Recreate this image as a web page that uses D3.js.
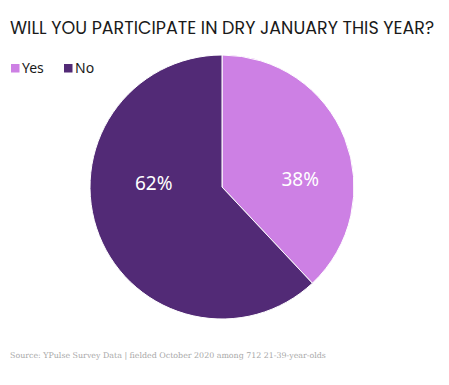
<!DOCTYPE html>
<html>
<head>
<meta charset="utf-8">
<script src="https://cdn.jsdelivr.net/npm/d3@7"></script>
<style>
  body { margin: 0; background: #fff; }
  svg { display: block; }
</style>
</head>
<body>
<div id="chart"></div>
<script>
// data
const categories = ["Yes", "No"];
const values = [38, 62];
const colors = ["#cd80e4", "#522a76"];

const width = 449, height = 385;
const cx = 222, cy = 187, radius = 132;

const svg = d3.select("#chart")
  .append("svg")
  .attr("width", width)
  .attr("height", height);

// title
svg.append("text")
  .attr("x", 10)
  .attr("y", 34)
  .attr("font-family", "Poppins, 'Noto Sans', sans-serif")
  .attr("font-size", 17.5)
  .attr("fill", "#1a1a1a")
  .text("WILL YOU PARTICIPATE IN DRY JANUARY THIS YEAR?");

// legend
const legend = svg.append("g").attr("transform", "translate(11,64)");
const legendX = [0, 53];
categories.forEach(function(c, i) {
  let g = legend.append("g").attr("transform", "translate(" + legendX[i] + ",0)");
  g.append("rect")
    .attr("width", 8.5).attr("height", 8.5)
    .attr("fill", colors[i]);
  g.append("text")
    .attr("x", 11).attr("y", 9)
    .attr("font-family", "'Noto Sans', sans-serif")
    .attr("font-size", 14)
    .attr("fill", "#1a1a1a")
    .text(c);
});

// pie
const pie = d3.pie().sort(null).value((d) => d);
const arc = d3.arc().innerRadius(0).outerRadius(radius);

const g = svg.append("g").attr("transform", "translate(" + cx + "," + cy + ")");
const arcs = pie(values);

g.selectAll("path")
  .data(arcs).enter()
  .append("path")
  .attr("d", arc)
  .attr("fill", (d, i) => colors[i])
  .attr("stroke", "#fff")
  .attr("stroke-width", 1);

// labels sit a bit clockwise of the slice middle, near the horizontal
const labelR = radius * 0.555, labelShift = 20 * Math.PI / 180;
g.selectAll(".lbl")
  .data(arcs).enter()
  .append("text")
  .attr("class", "lbl")
  .attr("transform", function(d) {
    let a = (d.startAngle + d.endAngle) / 2 + labelShift;
    return "translate(" + (labelR * Math.sin(a) + 5) + "," + (-labelR * Math.cos(a) - 6) + ")";
  })
  .attr("text-anchor", "middle")
  .attr("dominant-baseline", "central")
  .attr("font-family", "'Noto Sans', sans-serif")
  .attr("font-size", 19)
  .attr("fill", "#fff")
  .text((d) => d.data + "%");

// source note
svg.append("text")
  .attr("x", 10)
  .attr("y", 358)
  .attr("font-family", "'DejaVu Serif', 'Liberation Serif', serif")
  .attr("font-size", 7.9)
  .attr("fill", "#a8a8a8")
  .text("Source: YPulse Survey Data | fielded October 2020 among 712 21-39-year-olds");
</script>
</body>
</html>
